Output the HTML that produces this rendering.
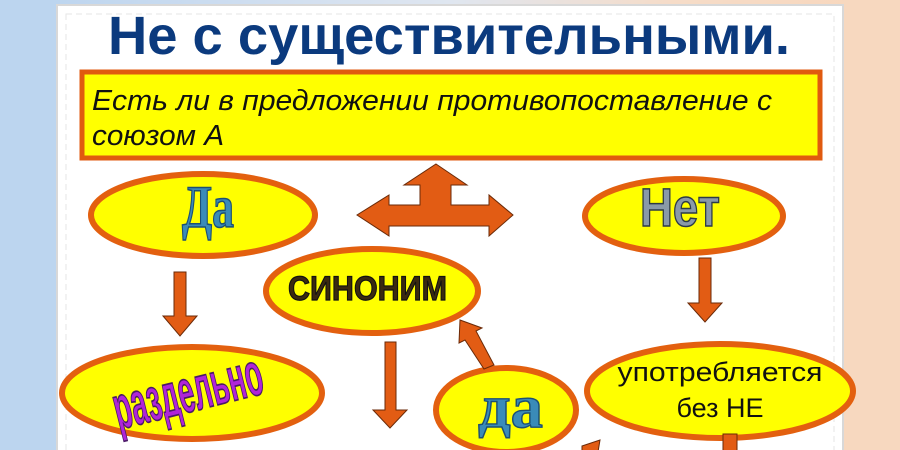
<!DOCTYPE html>
<html><head><meta charset="utf-8"><style>
html,body{margin:0;padding:0;width:900px;height:450px;overflow:hidden;background:#fff}
svg{display:block}
</style></head><body>
<svg width="900" height="450" viewBox="0 0 900 450" xmlns="http://www.w3.org/2000/svg">
<defs>
<linearGradient id="bg" x1="0" x2="1" y1="0" y2="0">
<stop offset="0" stop-color="#b9d3ef"/><stop offset="0.5" stop-color="#dfe6f0"/><stop offset="0.75" stop-color="#f6dcc8"/><stop offset="1" stop-color="#f8d6bb"/>
</linearGradient>
</defs>
<rect width="900" height="450" fill="url(#bg)"/>
<rect x="0" y="0" width="60" height="450" fill="#bcd5ef"/>
<rect x="843" y="0" width="57" height="450" fill="#f7d8bf"/>
<rect x="57" y="5" width="786" height="460" fill="#fff" stroke="#d8d8d8" stroke-width="2"/>
<rect x="66" y="14" width="768" height="450" fill="none" stroke="#e6e6e6" stroke-width="1" stroke-dasharray="6 4"/>
<text x="108" y="54" textLength="682" lengthAdjust="spacingAndGlyphs" font-family="Liberation Sans, sans-serif" font-weight="bold" font-size="54" fill="#0b3a7e">Не с существительными.</text>
<rect x="82" y="72" width="738" height="86" fill="#ffff00" stroke="#e05a0f" stroke-width="5"/>
<text font-family="Liberation Sans, sans-serif" font-style="italic" font-size="29" fill="#111"><tspan x="92" y="110" textLength="680" lengthAdjust="spacingAndGlyphs">Есть ли в предложении противопоставление с</tspan><tspan x="92" y="145" textLength="132" lengthAdjust="spacingAndGlyphs">союзом А</tspan></text>
<g fill="#ffff00" stroke="#e3600f" stroke-width="6">
<ellipse cx="203" cy="215" rx="112" ry="41"/>
<ellipse cx="684" cy="216" rx="99" ry="37"/>
<ellipse cx="372" cy="291" rx="106" ry="42"/>
<ellipse cx="192" cy="393" rx="130" ry="46"/>
<ellipse cx="506" cy="410" rx="70" ry="42"/>
<ellipse cx="720" cy="391" rx="133" ry="47"/>
</g>
<g fill="#e25c14" stroke="#6a2a08" stroke-width="1">
<path d="M436 164 L467 185 L451 185 L451 205 L489 205 L489 195 L513 215 L489 236 L489 226 L389 226 L389 236 L357 215 L389 195 L389 205 L420 205 L420 185 L404 185 Z"/>
<path d="M174 272 L186 272 L186 316 L197 316 L180 336 L163 316 L174 316 Z"/>
<path d="M699 258 L711 258 L711 303 L722 303 L705 322 L688 303 L699 303 Z"/>
<path d="M385 342 L396 342 L396 410 L407 410 L390 428 L373 410 L385 410 Z"/>
<path d="M484 369 L494 365 L476 331 L482 328 L460 320 L459 343 L465 340 Z"/>
<path d="M582 446 L600 440 L598 452 L582 452 Z"/>
<path d="M723 434 L737 434 L737 452 L723 452 Z"/>
</g>
<g font-family="Liberation Serif, serif" font-weight="bold">
<text x="182" y="228" textLength="52" lengthAdjust="spacingAndGlyphs" font-size="40" fill="#3a8bb8" stroke="#1c4f74" stroke-width="1" transform="translate(0 -115) scale(1 1.5)">Да</text>
<text x="478" y="430" textLength="65" lengthAdjust="spacingAndGlyphs" font-size="44" fill="#3a8bb8" stroke="#1c4f74" stroke-width="1" transform="translate(0 -175) scale(1 1.4)">да</text>
</g>
<text x="640" y="226" textLength="80" lengthAdjust="spacingAndGlyphs" font-family="Liberation Sans, sans-serif" font-weight="bold" font-size="36" fill="#8a9aa8" stroke="#2c3a46" stroke-width="1" transform="translate(0 -113) scale(1 1.5)">Нет</text>
<text x="288" y="300" textLength="159" lengthAdjust="spacingAndGlyphs" font-family="Liberation Sans, sans-serif" font-weight="bold" font-size="30" fill="#3a2a10" stroke="#111" stroke-width="1" transform="translate(0 -45) scale(1 1.15)">СИНОНИМ</text>
<text x="188" y="404" text-anchor="middle" textLength="160" lengthAdjust="spacingAndGlyphs" font-family="Liberation Sans, sans-serif" font-weight="bold" font-size="36" fill="#b025d8" stroke="#4a1a66" stroke-width="1" transform="translate(188 393) rotate(-14) scale(0.95 1.7) translate(-188 -393)">раздельно</text>
<text font-family="Liberation Sans, sans-serif" font-size="27" fill="#111" text-anchor="middle"><tspan x="720" y="381" textLength="205" lengthAdjust="spacingAndGlyphs">употребляется</tspan><tspan x="720" y="417">без НЕ</tspan></text>
</svg>
</body></html>
